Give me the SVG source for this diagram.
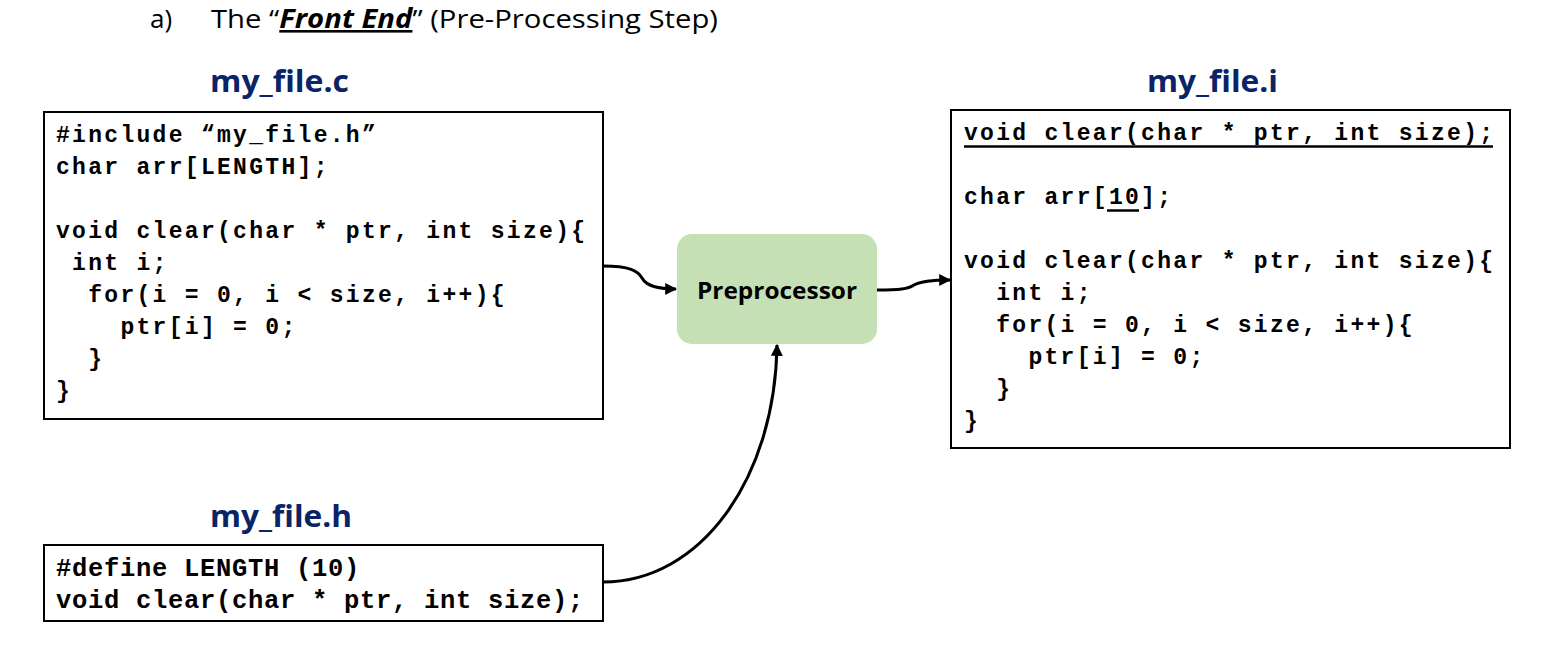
<svg xmlns="http://www.w3.org/2000/svg" width="1545" height="655" viewBox="0 0 1545 655">
<defs>
<style>
.title{font-family:"Open Sans","Noto Sans",sans-serif;font-size:26px;fill:#000}
.fname{font-family:"Open Sans","Noto Sans",sans-serif;font-size:30px;font-weight:bold;fill:#0A2466}
.code{font-family:"Liberation Mono","Courier New",monospace;font-size:23px;font-weight:bold;letter-spacing:2.3px;fill:#000}
.codeh{font-family:"Liberation Mono","Courier New",monospace;font-size:25.5px;font-weight:bold;letter-spacing:0.7px;fill:#000}
.box{fill:#fff;stroke:#000;stroke-width:2}
.proc{fill:#C5E0B4;stroke:none}
.ptext{font-family:"Open Sans","Noto Sans",sans-serif;font-size:23px;font-weight:bold;fill:#000}
.conn{fill:none;stroke:#000;stroke-width:3}
.uline{stroke:#000;stroke-width:2.5}
</style>
<marker id="arr" viewBox="0 0 10 10" refX="9" refY="5" markerWidth="4" markerHeight="4" orient="auto" markerUnits="strokeWidth">
<path d="M0,0 L10,5 L0,10 z" fill="#000"/>
</marker>
</defs>
<rect width="1545" height="655" fill="#fff"/>

<g id="title">
<text class="title" x="150" y="28">a)</text>
<text class="title" x="211" y="28" textLength="507" lengthAdjust="spacingAndGlyphs">The “<tspan font-style="italic" font-weight="bold" text-decoration="underline">Front End</tspan>” (Pre-Processing Step)</text>
</g>

<g id="file-c">
<text class="fname" x="210" y="92" textLength="139" lengthAdjust="spacingAndGlyphs">my_file.c</text>
<rect class="box" x="44" y="112" width="559" height="307"/>
<text class="code" xml:space="preserve" x="56" y="142">#include “my_file.h”</text>
<text class="code" xml:space="preserve" x="56" y="174">char arr[LENGTH];</text>
<text class="code" xml:space="preserve" x="56" y="238">void clear(char * ptr, int size){</text>
<text class="code" xml:space="preserve" x="56" y="270"> int i;</text>
<text class="code" xml:space="preserve" x="56" y="302">  for(i = 0, i &lt; size, i++){</text>
<text class="code" xml:space="preserve" x="56" y="334">    ptr[i] = 0;</text>
<text class="code" xml:space="preserve" x="56" y="366">  }</text>
<text class="code" xml:space="preserve" x="56" y="398">}</text>
</g>

<g id="file-h">
<text class="fname" x="210" y="527" textLength="142" lengthAdjust="spacingAndGlyphs">my_file.h</text>
<rect class="box" x="44" y="545" width="559" height="76"/>
<text class="codeh" xml:space="preserve" x="56" y="576">#define LENGTH (10)</text>
<text class="codeh" xml:space="preserve" x="56" y="608">void clear(char * ptr, int size);</text>
</g>

<g id="preprocessor">
<rect class="proc" x="677" y="234" width="200" height="110" rx="15" ry="15"/>
<text class="ptext" x="777" y="299" text-anchor="middle" textLength="160" lengthAdjust="spacingAndGlyphs">Preprocessor</text>
</g>

<g id="file-i">
<text class="fname" x="1147" y="92" textLength="131" lengthAdjust="spacingAndGlyphs">my_file.i</text>
<rect class="box" x="951" y="110" width="559" height="338"/>
<text class="code" xml:space="preserve" x="964" y="140">void clear(char * ptr, int size);</text>
<line class="uline" x1="964" y1="146.5" x2="1493" y2="146.5"/>
<text class="code" xml:space="preserve" x="964" y="204">char arr[10];</text>
<line class="uline" x1="1107" y1="210.5" x2="1139" y2="210.5"/>
<text class="code" xml:space="preserve" x="964" y="268">void clear(char * ptr, int size){</text>
<text class="code" xml:space="preserve" x="964" y="300">  int i;</text>
<text class="code" xml:space="preserve" x="964" y="332">  for(i = 0, i &lt; size, i++){</text>
<text class="code" xml:space="preserve" x="964" y="364">    ptr[i] = 0;</text>
<text class="code" xml:space="preserve" x="964" y="396">  }</text>
<text class="code" xml:space="preserve" x="964" y="428">}</text>
</g>

<g id="connectors">
<path class="conn" d="M603,266 C630,266 638,271 642,278 C647,287 660,289 676,289" marker-end="url(#arr)"/>
<path class="conn" d="M877,290 C900,290 908,289 914,285 C921,281 935,280 950,280" marker-end="url(#arr)"/>
<path class="conn" d="M603,582 C700,582 775,480 777,345" marker-end="url(#arr)"/>
</g>
</svg>
